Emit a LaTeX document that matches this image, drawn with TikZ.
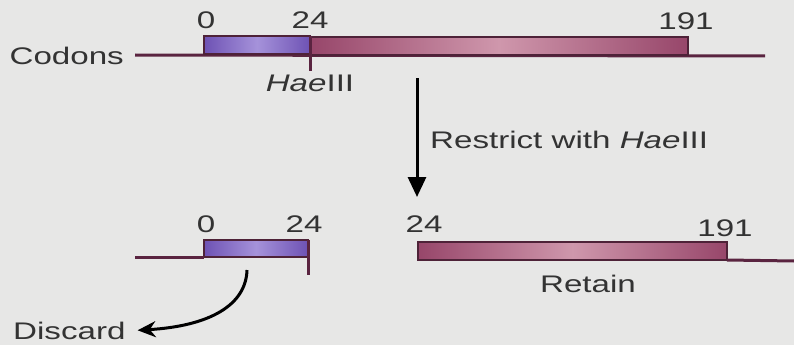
\documentclass[tikz,border=0pt]{standalone}
\usepackage{fontspec}
\setmainfont[FakeStretch=1.38]{Liberation Sans}
\usetikzlibrary{arrows.meta}
\definecolor{bg}{HTML}{E7E7E6}
\definecolor{txt}{HTML}{333333}
\definecolor{edge}{HTML}{4E2238}
\definecolor{pdark}{HTML}{6E52B4}
\definecolor{plight}{HTML}{A592DA}
\definecolor{rdark}{HTML}{97466A}
\definecolor{rlight}{HTML}{CF97AC}
\definecolor{dna}{HTML}{5A2440}
\tikzset{
  lbl/.style={inner sep=0pt, text=txt, font=\fontsize{24}{28}\selectfont},
  purplebox/.style={draw=edge, line width=2pt, inner sep=0pt, outer sep=0pt, anchor=north west,
    left color=pdark, right color=pdark, middle color=plight},
  redbox/.style={draw=edge, line width=2pt, inner sep=0pt, outer sep=0pt, anchor=north west,
    left color=rdark, right color=rdark, middle color=rlight},
  dnaline/.style={draw=dna, line width=3pt},
  tick/.style={draw=dna, line width=3pt},
  bigarrow/.style={draw=black, line width=3pt, -{Triangle[length=20pt,width=18pt]}},
  curvearrow/.style={draw=black, line width=3pt, -{Stealth[length=18pt,width=16pt]}}
}
\begin{document}
\begin{tikzpicture}[x=1pt,y=-1pt]
\fill[bg] (0,0) rectangle (794,345);
\useasboundingbox (0,0) rectangle (794,345);

% ---- top construct ----
\coordinate (tl) at (135,55);
\coordinate (tr) at (765,56);
\draw[dnaline] (tl) -- (tr);
\node[purplebox, minimum width=106pt, minimum height=18pt] (tp) at (204,36) {};
\node[redbox, minimum width=378pt, minimum height=18pt] (tr1) at (310,37) {};
\coordinate (ttick) at (310,71);
\draw[tick] (tp.north east) -- (ttick);
\node[lbl, anchor=east] (codons) at (124,56) {Codons};
\node[lbl] (t0) at (206,20) {0};
\node[lbl] (t24) at (310,20) {24};
\node[lbl] (t191) at (686,21) {191};
\node[lbl] (hae) at (310,83) {\textit{Hae}III};

% ---- restriction arrow ----
\coordinate (as) at (417,78);
\coordinate (ae) at (417,197);
\draw[bigarrow] (as) -- (ae);
\node[lbl, anchor=west] (restrict) at (430,140) {Restrict with \textit{Hae}III};

% ---- bottom left fragment ----
\coordinate (bl) at (135,257);
\node[purplebox, minimum width=104pt, minimum height=17pt] (bp) at (204,240) {};
\draw[dnaline] (bl) -- (bp.south west);
\coordinate (btick) at (308,275);
\draw[tick] (bp.north east) -- (btick);
\node[lbl] (b0) at (206,224) {0};
\node[lbl] (b24) at (304,224) {24};

% ---- bottom right fragment ----
\node[redbox, minimum width=309pt, minimum height=18pt] (br) at (418,242) {};
\coordinate (brr) at (794,261);
\draw[dnaline] (br.south east) -- (brr);
\node[lbl] (b24r) at (424,224) {24};
\node[lbl] (b191) at (725,228) {191};
\node[lbl] (retain) at (588,284) {Retain};

% ---- discard ----
\node[lbl, anchor=west] (discard) at (13,331) {Discard};
\coordinate (ds) at (247,270);
\draw[curvearrow, shorten >=12pt] (ds) .. controls (246,305) and (210,326) .. (discard.east);
\end{tikzpicture}
\end{document}
